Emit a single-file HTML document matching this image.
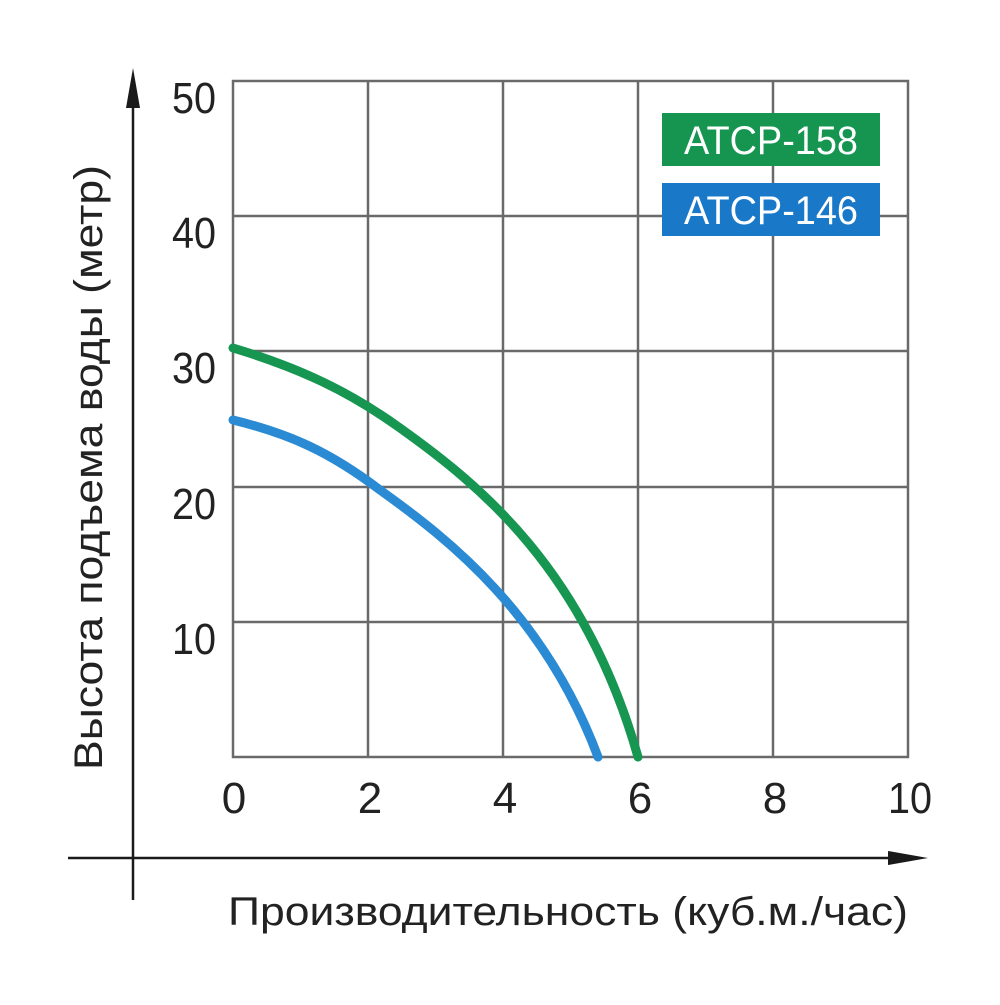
<!DOCTYPE html>
<html><head><meta charset="utf-8"><style>body{margin:0;background:#fff}</style></head><body>
<svg width="1000" height="1000" viewBox="0 0 1000 1000" xmlns="http://www.w3.org/2000/svg" font-family="Liberation Sans, DejaVu Sans, sans-serif">
<rect width="1000" height="1000" fill="#fff"/>
<g stroke="#6a6a6a" stroke-width="2.5" fill="none">
<rect x="233" y="81" width="675" height="676"/>
<line x1="368" y1="81" x2="368" y2="757"/><line x1="503" y1="81" x2="503" y2="757"/>
<line x1="638" y1="81" x2="638" y2="757"/><line x1="773" y1="81" x2="773" y2="757"/>
<line x1="233" y1="216" x2="908" y2="216"/><line x1="233" y1="351" x2="908" y2="351"/>
<line x1="233" y1="487" x2="908" y2="487"/><line x1="233" y1="622" x2="908" y2="622"/>
</g>
<g stroke="#1a1a1a" stroke-width="2.5">
<line x1="133" y1="100" x2="133" y2="900"/>
<line x1="68" y1="858" x2="905" y2="858"/>
</g>
<polygon points="133,68 126,108 140,108" fill="#1a1a1a"/>
<polygon points="928,858 888,851 888,865" fill="#1a1a1a"/>
<g font-size="44" fill="#222" text-anchor="end">
<text x="216" y="113" textLength="44" lengthAdjust="spacingAndGlyphs">50</text><text x="216" y="248" textLength="44" lengthAdjust="spacingAndGlyphs">40</text><text x="216" y="383" textLength="44" lengthAdjust="spacingAndGlyphs">30</text>
<text x="216" y="519" textLength="44" lengthAdjust="spacingAndGlyphs">20</text><text x="216" y="654" textLength="44" lengthAdjust="spacingAndGlyphs">10</text>
</g>
<g font-size="44" fill="#222" text-anchor="middle">
<text x="234" y="813">0</text><text x="370" y="813">2</text><text x="505" y="813">4</text>
<text x="640" y="813">6</text><text x="775" y="813">8</text><text x="910" y="813" textLength="44" lengthAdjust="spacingAndGlyphs">10</text>
</g>
<text x="228" y="925" font-size="40" fill="#222" textLength="680" lengthAdjust="spacingAndGlyphs">Производительность (куб.м./час)</text>
<text transform="translate(102,770) rotate(-90)" font-size="40" fill="#222" textLength="605" lengthAdjust="spacingAndGlyphs">Высота подъема воды (метр)</text>
<path d="M233,348 C300,368 350,392 400,428 C480,485 585,570 638,757" stroke="#169650" stroke-width="9" fill="none" stroke-linecap="round"/>
<path d="M233,420 C290,434 330,452 380,490 C450,540 545,615 598,757" stroke="#2a8ad3" stroke-width="9" fill="none" stroke-linecap="round"/>
<rect x="662" y="113" width="218" height="53" fill="#159550"/>
<rect x="662" y="183" width="218" height="53" fill="#1a78c8"/>
<g font-size="40" fill="#fff" text-anchor="middle">
<text x="771" y="154" textLength="174" lengthAdjust="spacingAndGlyphs">ATCP-158</text>
<text x="771" y="224" textLength="174" lengthAdjust="spacingAndGlyphs">ATCP-146</text>
</g>
</svg>
</body></html>
